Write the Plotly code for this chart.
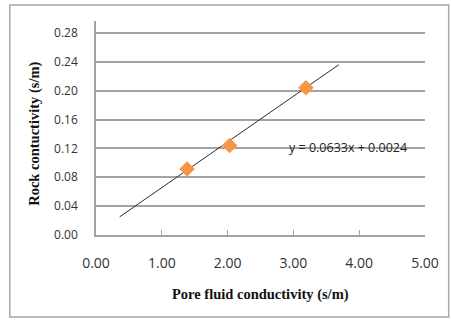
import plotly.graph_objects as go

# Measured samples
pore_fluid = [1.385, 2.03, 3.19]
rock = [0.0915, 0.124, 0.204]

# Linear fit reported on the chart
slope = 0.0633
intercept = 0.0024
fit_x = [0.36, 3.69]
fit_y = [slope * v + intercept for v in fit_x]

x_ticks = [0, 1, 2, 3, 4, 5]
y_ticks = [0.00, 0.04, 0.08, 0.12, 0.16, 0.20, 0.24, 0.28]

grid = "#a3a3a3"
label_font = "Open Sans"
title_font = "Liberation Serif"

fig = go.Figure()
fig.add_trace(go.Scatter(
    x=fit_x, y=fit_y, mode="lines",
    line=dict(color="#2b2b2b", width=1), showlegend=False, hoverinfo="skip",
))
fig.add_trace(go.Scatter(
    x=pore_fluid, y=rock, mode="markers",
    marker=dict(symbol="diamond", size=12, color="#f79646",
                line=dict(width=0)),
    showlegend=False,
))

fig.add_annotation(
    x=3.83, y=0.1206, xref="x", yref="y",
    xanchor="center", yanchor="middle",
    text=f"y = {slope}x + {intercept}", showarrow=False,
    font=dict(family=label_font, size=12.5, color="#222222"),
)
fig.add_annotation(
    x=0.5, y=-0.28, xref="paper", yref="paper",
    xanchor="center", yanchor="middle",
    text="<b>Pore fluid conductivity (s/m)</b>", showarrow=False,
    font=dict(family=title_font, size=14.5, color="#111111"),
)
fig.add_annotation(
    x=-0.187, y=0.475, xref="paper", yref="paper", textangle=-90,
    xanchor="center", yanchor="middle",
    text="<b>Rock contuctivity (s/m)</b>", showarrow=False,
    font=dict(family=title_font, size=14.5, color="#111111"),
)

# Chart frame
fig.add_shape(
    type="rect", xref="paper", yref="paper",
    x0=-0.262, x1=1.072, y0=-0.383, y1=1.075,
    line=dict(color="#a8a8a8", width=1.5), layer="below",
)

fig.update_layout(
    width=451, height=320,
    margin=dict(l=96, r=23, t=21, b=85),
    paper_bgcolor="white", plot_bgcolor="white",
    xaxis=dict(
        range=[0, 5], tickvals=x_ticks,
        ticktext=[f"{v:.2f}" for v in x_ticks],
        showgrid=False, zeroline=False,
        showline=True, linecolor=grid, linewidth=1.5,
        ticks="inside", ticklen=5, tickcolor=grid, tickwidth=1,
        tickfont=dict(family=label_font, size=14, color="#333333"),
        ticklabelstandoff=14,
    ),
    yaxis=dict(
        range=[0, 0.2966], tickvals=y_ticks,
        ticktext=[f"{v:.2f}" for v in y_ticks],
        showgrid=True, gridcolor=grid, gridwidth=1.5,
        zeroline=False,
        showline=True, linecolor=grid, linewidth=1.5,
        ticks="", tickfont=dict(family=label_font, size=12, color="#333333"),
        ticklabelstandoff=14,
    ),
)

fig.write_html("out.html")
